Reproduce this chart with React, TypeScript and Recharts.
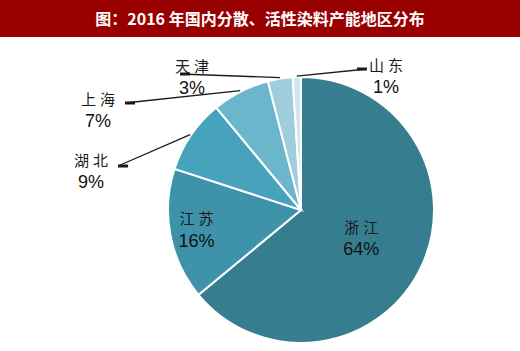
import { PieChart, Pie, Cell } from 'recharts'

const regions = ['浙江', '江苏', '湖北', '上海', '天津', '山东']
const shares = [64, 16, 9, 7, 3, 1]
const colors = ['#357D8F', '#3E93AA', '#47A3BB', '#6CB6CB', '#A0CDDC', '#CFE6EE']

const data = regions.map((name, i) => ({ name, value: shares[i] }))

// label placement relative to pie centre; inside labels use a radius fraction,
// outside labels get a leader line ending at (ex, ey) with the text beside it
type Place =
  | { kind: 'in'; rf: number }
  | { kind: 'out'; ex: number; ey: number; tx: number; ty: number; side: 'left' | 'right' }

const places: Place[] = [
  { kind: 'in', rf: 0.5 },
  { kind: 'in', rf: 0.8 },
  { kind: 'out', ex: -183, ey: -44, tx: -210, ty: -51, side: 'left' },
  { kind: 'out', ex: -176, ey: -107, tx: -203, ty: -112, side: 'left' },
  { kind: 'out', ex: -121, ey: -136, tx: -109, ty: -145, side: 'left' },
  { kind: 'out', ex: 66, ey: -141, tx: 85, ty: -146, side: 'right' },
]

const RAD = Math.PI / 180
const cjk = '"Noto Sans CJK SC", sans-serif'
const latin = 'Arial, "Liberation Sans", sans-serif'
const SP = 4

function LabelText({ x, y, name, pct }: { x: number; y: number; name: string; pct: string }) {
  return (
    <>
      <text x={x + SP / 2} y={y} textAnchor="middle" dominantBaseline="central" fontFamily={cjk} fontSize={15} letterSpacing={SP} fill="#1a1a1a">{name}</text>
      <text x={x} y={y + 23} textAnchor="middle" dominantBaseline="central" fontFamily={latin} fontSize={18} fill="#111">{pct}</text>
    </>
  )
}

function renderLabel(props: any) {
  const { cx, cy, midAngle, outerRadius, index } = props
  const p = places[index]
  const name = regions[index]
  const pct = shares[index] + '%'
  if (p.kind === 'in') {
    const r = outerRadius * p.rf
    const x = cx + r * Math.cos(-midAngle * RAD)
    const y = cy + r * Math.sin(-midAngle * RAD)
    return <g><LabelText x={x} y={y - 12} name={name} pct={pct} /></g>
  }
  const sx = cx + (outerRadius + 1) * Math.cos(-midAngle * RAD)
  const sy = cy + (outerRadius + 1) * Math.sin(-midAngle * RAD)
  const ex = cx + p.ex
  const ey = cy + p.ey
  const thickX = p.side === 'left' ? ex + 10 : ex - 10
  return (
    <g>
      <line x1={sx} y1={sy} x2={ex} y2={ey} stroke="#1a1a1a" strokeWidth={1.3} />
      <line x1={ex} y1={ey} x2={thickX} y2={ey} stroke="#1a1a1a" strokeWidth={3} />
      <LabelText x={cx + p.tx} y={cy + p.ty} name={name} pct={pct} />
    </g>
  )
}

export default function App() {
  return (
    <div style={{ position: 'relative', width: 520, height: 351, background: '#fff' }}>
      <style>{'body{margin:0}'}</style>
      <div style={{
        position: 'absolute', left: 0, top: 0, width: 520, height: 37,
        background: '#990000', color: '#fff', fontFamily: cjk, fontWeight: 700,
        fontSize: 16, lineHeight: '37px', textAlign: 'center', zIndex: 1,
      }}>
        图：2016 年国内分散、活性染料产能地区分布
      </div>
      <div style={{ position: 'absolute', left: 0, top: 0 }}>
        <PieChart width={520} height={351}>
          <defs>
            <filter id="pieShadow" x="-10%" y="-10%" width="120%" height="120%">
              <feDropShadow dx="0" dy="1" stdDeviation="1.5" floodColor="#000" floodOpacity="0.2" />
            </filter>
          </defs>
          <Pie
            data={data}
            dataKey="value"
            nameKey="name"
            cx={296}
            cy={205}
            outerRadius={133}
            startAngle={90}
            endAngle={-270}
            stroke="#ffffff"
            strokeWidth={2}
            label={renderLabel}
            labelLine={false}
            isAnimationActive={false}
          >
            {data.map((d, i) => <Cell key={d.name} fill={colors[i]} />)}
          </Pie>
        </PieChart>
      </div>
    </div>
  )
}
